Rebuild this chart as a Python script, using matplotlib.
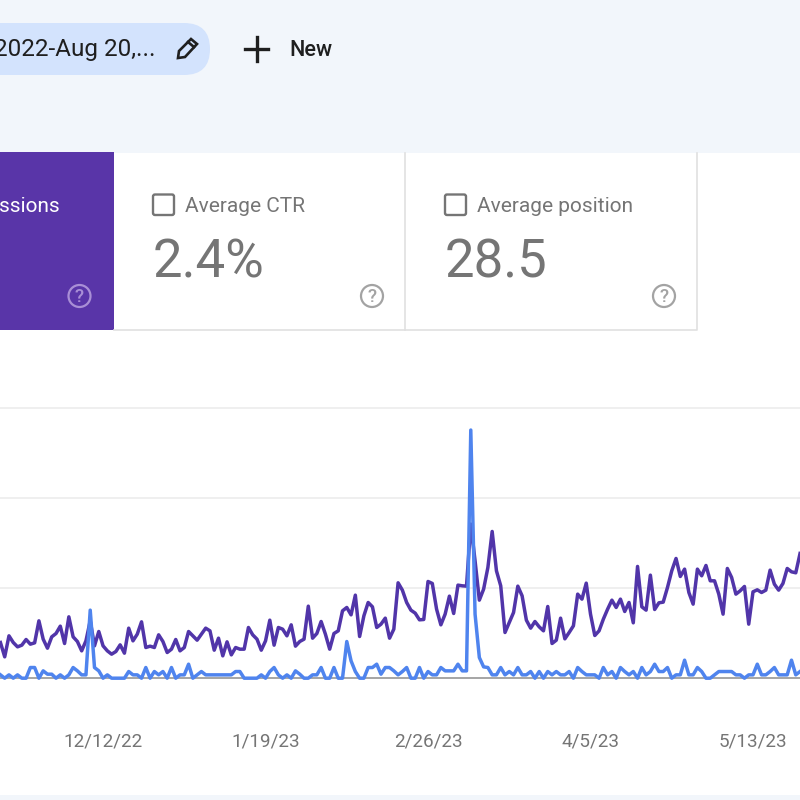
import matplotlib.pyplot as plt
import matplotlib.dates as mdates
import pandas as pd
from matplotlib.patches import Circle, FancyBboxPatch, Polygon, Rectangle

plt.rcParams['font.family'] = ['Roboto', 'DejaVu Sans']

# daily values, 270 units = one gridline
impressions = [
    107, 64, 127, 107, 94, 99, 116, 102, 106, 172,
    117, 90, 124, 134, 156, 104, 184, 124, 110, 82,
    112, 172, 97, 140, 97, 82, 72, 80, 100, 75,
    150, 112, 132, 169, 92, 96, 92, 130, 110, 77,
    87, 116, 82, 92, 140, 127, 114, 132, 150, 142,
    84, 120, 67, 109, 70, 92, 87, 87, 152, 130,
    117, 84, 112,
    174, 99, 152, 147, 127, 160, 96, 110, 117, 216,
    120, 134, 170, 132, 87, 134, 142, 202, 212, 190,
    249, 125, 187, 227, 214, 152, 162, 180, 120, 147,
    286, 264, 227, 204, 195, 175, 176, 290, 284, 207,
    160, 192, 246, 194, 279, 277, 276, 462, 352, 234,
    267, 332, 440, 322, 277, 137, 167, 197, 276, 247,
    174, 150, 170, 154,
    142, 215, 104, 114, 180, 118, 137, 157, 252, 237,
    285, 192, 128, 142, 177, 207, 234, 212, 237, 200,
    227, 166, 335, 214, 204, 309, 206, 226, 228, 272,
    322, 359, 305, 327, 257, 222, 327, 307, 338, 292,
    292, 252, 192, 329, 302, 252, 262, 275, 162, 259,
    265, 257, 264, 324, 282, 264, 284, 329, 319, 316,
    374]

clicks = [
    10, 0, 10, 0, 10, 0, 0,
    32, 32, 0, 22, 12, 12, 0, 10, 0, 10,
    32, 22, 10, 10, 204, 32, 22, 0, 10, 0,
    0, 0, 0, 20, 10, 10, 0, 32, 0, 20,
    10, 20, 0, 32, 0, 10, 10, 42, 0, 10,
    20, 10, 10, 10, 10, 10, 10, 10, 20, 20,
    0, 0, 0, 0, 10, 0,
    20, 32, 10, 0, 10, 0, 22, 12, 0, 0,
    10, 10, 32, 0, 0, 32, 0, 0, 110, 52,
    20, 0, 0, 32, 32, 42, 12, 32, 32, 22,
    10, 20, 32, 0, 0, 32, 0, 20, 10, 10,
    32, 22, 22, 22, 42, 22, 22, 744, 192, 62,
    34, 32, 10, 10, 32, 10, 20, 10, 32, 10,
    10, 20, 0, 20,
    0, 20, 10, 20, 10, 10, 20, 0, 32, 20,
    10, 10, 10, 0, 32, 10, 20, 0, 32, 20,
    10, 20, 0, 32, 10, 20, 42, 20, 20, 32,
    0, 10, 10, 54, 10, 10, 32, 20, 0, 0,
    10, 20, 20, 20, 20, 10, 10, 0, 10, 10,
    42, 10, 10, 20, 32, 10, 10, 10, 54, 10,
    20]

first_day = '2022-11-18'
tick_dates = ['2022-12-12', '2023-01-19', '2023-02-26', '2023-04-05', '2023-05-13']
tick_labels = ['12/12/22', '1/19/23', '2/26/23', '4/5/23', '5/13/23']
grid_values = [270, 540, 810]

PURPLE = '#5935a8'
LINE_PURPLE = '#5135a9'
BLUE = '#4f84ee'
GRAY = '#757575'
PAGE = '#f2f6fb'
BORDER = '#e0e0e0'

fig = plt.figure(figsize=(8, 8), dpi=100, facecolor='white')

# page furniture, in pixels
ui = fig.add_axes([0, 0, 1, 1])
ui.set_xlim(0, 800)
ui.set_ylim(800, 0)
ui.axis('off')

ui.add_patch(Rectangle((0, 0), 800, 152.5, fc=PAGE, ec='none'))
ui.add_patch(Rectangle((0, 795), 800, 5, fc=PAGE, ec='none'))

# date pill
ui.add_patch(FancyBboxPatch((-60, 23), 270, 52, boxstyle='round,pad=0,rounding_size=26',
                            fc='#d3e3fd', ec='none'))
ui.text(156, 49.5, '2022-Aug 20,...', ha='right', va='center', fontsize=17.5,
        color='#1f1f1f', clip_on=True)
ui.add_patch(Polygon([(178, 58), (179, 51), (191, 39), (197, 44), (185, 57)], closed=True,
                     fc='none', ec='#1f1f1f', lw=1.9))
ui.plot([188, 194], [42, 47], color='#1f1f1f', lw=1.9)

# new button
ui.plot([245, 268], [49, 49], color='#1f1f1f', lw=2.4)
ui.plot([256.5, 256.5], [37, 61], color='#1f1f1f', lw=2.4)
ui.text(289, 50, 'New', ha='left', va='center', fontsize=15.6, fontweight='medium', color='#1f1f1f')

# cards
ui.add_patch(Rectangle((0, 152), 113.5, 178, fc=PURPLE, ec='none'))
ui.plot([113.5, 697, 697], [329.5, 329.5, 152.5], color=BORDER, lw=1.2)
ui.plot([405, 405], [152.5, 329.5], color=BORDER, lw=1.2)
ui.text(60, 206, 'ssions', ha='right', va='center', fontsize=15, color='white')


def question(x, color):
    ui.add_patch(Circle((x, 296), 11, fc='none', ec=color, lw=1.6))
    ui.text(x, 296.5, '?', ha='center', va='center', fontsize=13.5, fontweight='medium', color=color)


def card(x, title, value):
    ui.add_patch(FancyBboxPatch((x, 194.5), 21, 20.5, boxstyle='round,pad=0,rounding_size=2',
                                fc='none', ec=GRAY, lw=1.7))
    ui.text(x + 32, 206, title, ha='left', va='center', fontsize=15, color=GRAY)
    ui.text(x, 278, value, ha='left', va='baseline', fontsize=38, color=GRAY)


question(79.5, '#a98fd6')
card(153, 'Average CTR', '2.4%')
question(372, '#a3a3a3')
card(445, 'Average position', '28.5')
question(664, '#a3a3a3')

# chart
days = pd.date_range(first_day, periods=len(impressions), freq='D')
x_left = mdates.date2num(pd.Timestamp(first_day))

ax = fig.add_axes([0, 1 - 688.2 / 800, 1, 287.5 / 800])
ax.patch.set_alpha(0)
ax.set_xlim(x_left - 0.1, x_left - 0.1 + 800 / 4.276)
ax.set_ylim(-30, 832)
for side in ax.spines:
    ax.spines[side].set_visible(False)

ax.set_yticks(grid_values)
ax.tick_params(axis='y', length=0, labelleft=False)
ax.grid(axis='y', color='#eeeeee', lw=1.3)
ax.set_axisbelow(True)
ax.axhline(0, color='#9e9e9e', lw=1.3, zorder=1)

ax.plot(days, impressions, color=LINE_PURPLE, lw=2.5, zorder=2)
ax.plot(days, clicks, color=BLUE, lw=2.5, zorder=3)

ax.set_xticks(pd.to_datetime(tick_dates))
ax.set_xticklabels(tick_labels, fontsize=13.6, color=GRAY)
ax.tick_params(axis='x', length=0, pad=32)

plt.savefig('out.png', dpi=100)
